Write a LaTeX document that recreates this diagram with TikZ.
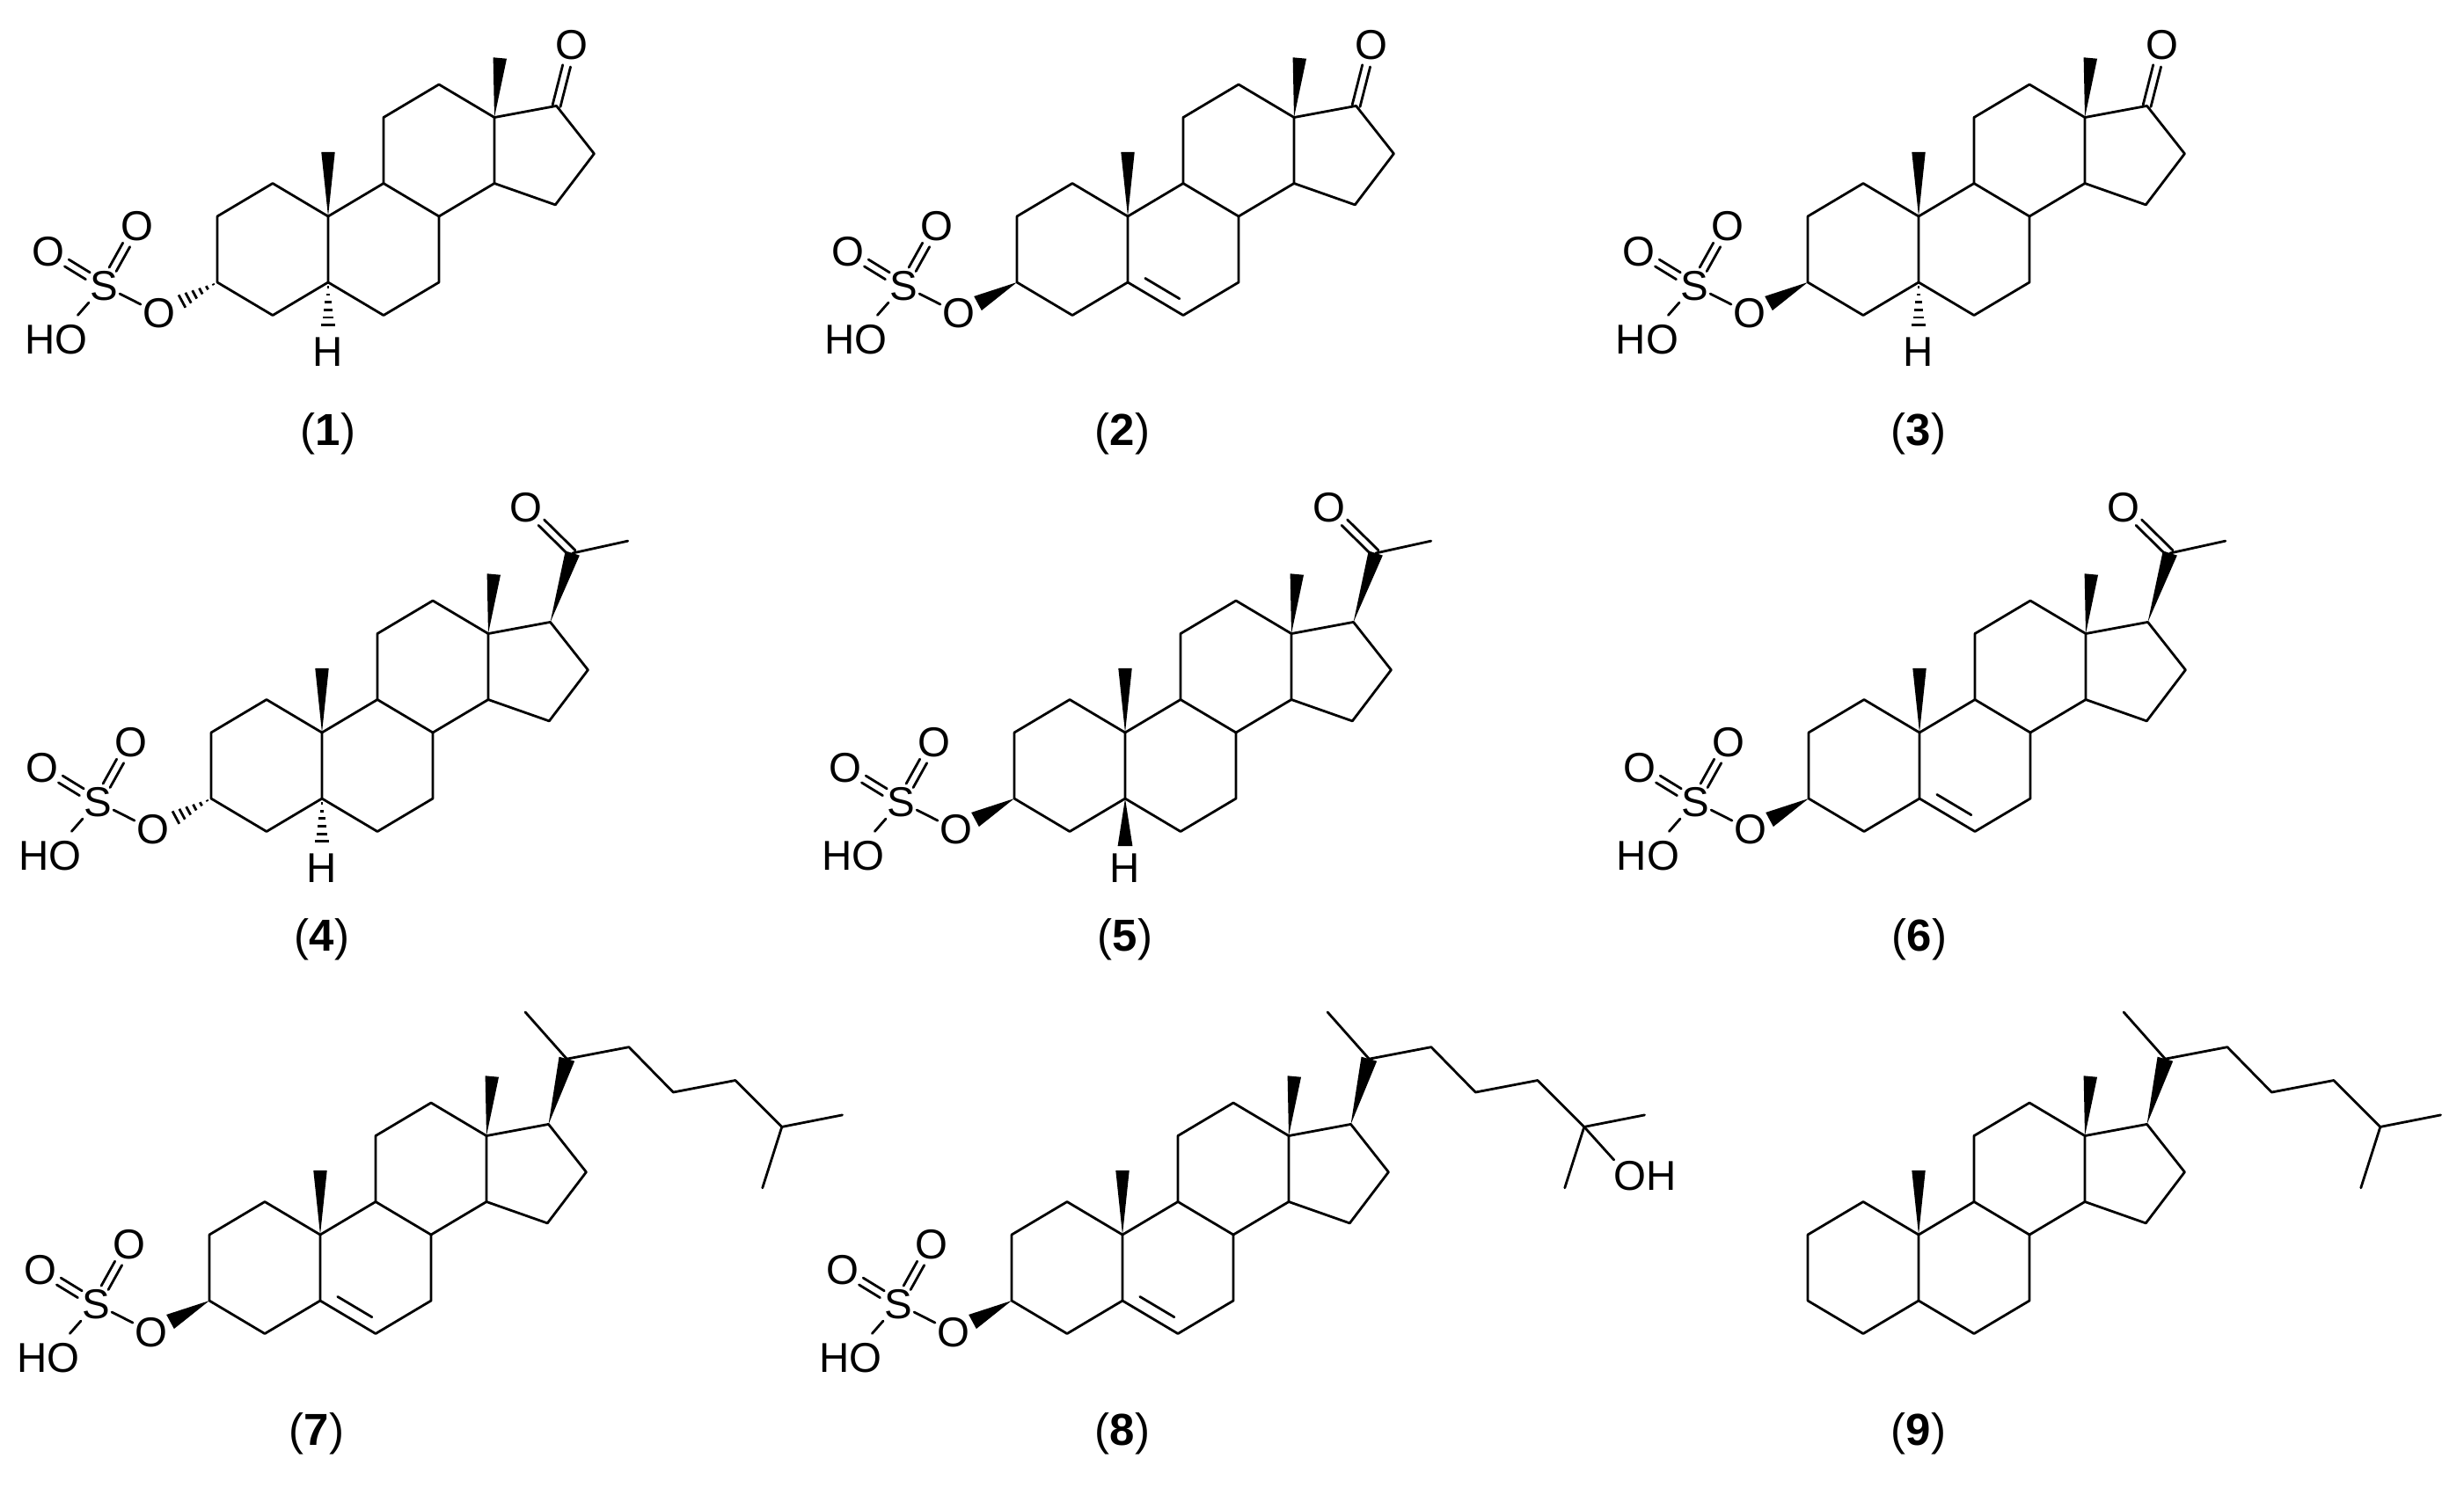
\documentclass[tikz,border=0pt]{standalone}
\usepackage{fontspec}
\setmainfont{Liberation Sans}
\usetikzlibrary{calc}
\tikzset{
  atom/.style={inner sep=0.5pt,font=\fontsize{13.5}{16}\selectfont},
  lab/.style={inner sep=0pt,font=\fontsize{14.5}{17}\selectfont},
  bond/.style={line width=0.28mm,line join=round,line cap=round},
}
\newcommand\wdg[3]{\fill (#1) -- ($(#2)!#3!90:(#1)$) -- ($(#2)!#3!-90:(#1)$) -- cycle;}
\newcommand\hashb[3]{\foreach \t in {0.1,0.26,0.42,0.58,0.74,0.9}{\draw[bond,line cap=butt] ($(#1)!\t!(#2)!{\t*#3}!90:(#2)$) -- ($(#1)!\t!(#2)!{\t*#3}!-90:(#2)$);}}
\newcommand\dbl[3]{\draw[bond] ($(#1)!#3!90:(#2)$) -- ($(#2)!#3!-90:(#1)$);
  \draw[bond] ($(#1)!#3!-90:(#2)$) -- ($(#2)!#3!90:(#1)$);}
\newcommand\core{%
  \coordinate (c10) at (0,0); \coordinate (c5) at (0,-2);
  \coordinate (c1) at (-1,1); \coordinate (c2) at (-2,0);
  \coordinate (c3) at (-2,-2); \coordinate (c4) at (-1,-3);
  \coordinate (c6) at (1,-3); \coordinate (c7) at (2,-2);
  \coordinate (c8) at (2,0); \coordinate (c9) at (1,1);
  \coordinate (c11) at (1,3); \coordinate (c12) at (2,4);
  \coordinate (c13) at (3,3); \coordinate (c14) at (3,1);
  \coordinate (c15) at (4.1,0.35); \coordinate (c16) at (4.8,1.9);
  \coordinate (c17) at (4.12,3.35); \coordinate (c18) at (3.1,4.8);
  \coordinate (c19) at (0,1.95);
  \draw[bond] (c10)--(c1)--(c2)--(c3)--(c4)--(c5)--(c10)--(c9)--(c8)--(c7)--(c6)--(c5);
  \draw[bond] (c9)--(c11)--(c12)--(c13)--(c14)--(c8);
  \draw[bond] (c13)--(c17)--(c16)--(c15)--(c14);
  \wdg{c10}{c19}{2.2pt}
  \wdg{c13}{c18}{2.2pt}}
\newcommand\sulf[1]{% #1 = b (beta wedge) or a (alpha hash)
  \node[atom] (Oe) at (-3.05,-2.95) {O};
  \node[atom] (S) at (-4.05,-2.1) {S};
  \node[atom] (Ol) at (-5.05,-1.07) {O};
  \node[atom] (Or) at (-3.45,-0.29) {O};
  \node[atom] (HO) at (-4.9,-3.73) {HO};
  \coordinate (oe) at ($(Oe)!7pt!(c3)$);
  \ifx#1b\wdg{c3}{oe}{2.6pt}\else\hashb{c3}{oe}{2.6pt}\fi
  \draw[bond] (Oe) -- (S);
  \draw[bond] (S) -- ($(HO)!0.45!(S)$);
  \dbl{$(S)!6pt!(Ol)$}{$(Ol)!7pt!(S)$}{1.3pt}
  \dbl{$(S)!6pt!(Or)$}{$(Or)!7pt!(S)$}{1.3pt}}
\newcommand\Hal[1]{% a hash, b wedge
  \node[atom] (H) at (0,-4.1) {H};
  \coordinate (he) at ($(H)!7pt!(c5)$);
  \ifx#1b\wdg{c5}{he}{2.4pt}\else\hashb{c5}{he}{2.4pt}\fi}
\newcommand\keto{\node[atom] (Ok) at (4.4,5.2) {O};
  \dbl{c17}{$(Ok)!7pt!(c17)$}{1.3pt}}
\newcommand\ene{\draw[bond] ($(c5)!0.2!(c6)!4pt!90:(c6)$) -- ($(c5)!0.82!(c6)!4pt!90:(c6)$);}
\newcommand\acetyl{\coordinate (c20) at (4.52,5.44); \coordinate (c21) at (5.52,5.81);
  \node[atom] (Oa) at (3.68,6.83) {O};
  \wdg{c17}{c20}{2.4pt}
  \draw[bond] (c20) -- (c21);
  \dbl{c20}{$(Oa)!7pt!(c20)$}{1.3pt}}
\newcommand\chol{\coordinate (c20) at (4.45,5.33); \coordinate (c21) at (3.7,6.75);
  \coordinate (c22) at (5.57,5.69); \coordinate (c23) at (6.37,4.32);
  \coordinate (c24) at (7.49,4.68); \coordinate (c25) at (8.33,3.27);
  \coordinate (c26) at (9.42,3.63); \coordinate (c27) at (7.98,1.42);
  \wdg{c17}{c20}{2.6pt}
  \draw[bond] (c21)--(c20)--(c22)--(c23)--(c24)--(c25)--(c26);
  \draw[bond] (c25)--(c27);}
\begin{document}
\begin{tikzpicture}[x=6.3mm,y=3.75mm]
\useasboundingbox (0,0) rectangle (280.1mm,-169.9mm);
% row 1
\begin{scope}[shift={(37.3mm,-24.6mm)}] \core \sulf{a} \Hal{a} \keto \end{scope}
\begin{scope}[shift={(128.2mm,-24.6mm)}] \core \sulf{b} \ene \keto \end{scope}
\begin{scope}[shift={(218.1mm,-24.6mm)}] \core \sulf{b} \Hal{a} \keto \end{scope}
% row 2
\begin{scope}[shift={(36.6mm,-83.3mm)}] \core \sulf{a} \Hal{a} \acetyl \end{scope}
\begin{scope}[shift={(127.9mm,-83.3mm)}] \core \sulf{b} \Hal{b} \acetyl \end{scope}
\begin{scope}[shift={(218.2mm,-83.3mm)}] \core \sulf{b} \ene \acetyl \end{scope}
% row 3
\begin{scope}[shift={(36.4mm,-140.4mm)}] \core \sulf{b} \ene \chol \end{scope}
\begin{scope}[shift={(127.6mm,-140.4mm)}] \core \sulf{b} \ene \chol
  \node[atom] (OH) at (9.43,1.78) {OH};
  \draw[bond] (c25) -- ($(9.13,1.78)!7pt!(c25)$);
\end{scope}
\begin{scope}[shift={(218.1mm,-140.4mm)}] \core \chol \end{scope}
% labels
\node[lab] (L1) at (37.3mm,-49.3mm) {(\textbf{1})};
\node[lab] (L2) at (127.6mm,-49.3mm) {(\textbf{2})};
\node[lab] (L3) at (218.1mm,-49.3mm) {(\textbf{3})};
\node[lab] (L4) at (36.6mm,-106.8mm) {(\textbf{4})};
\node[lab] (L5) at (127.9mm,-106.8mm) {(\textbf{5})};
\node[lab] (L6) at (218.2mm,-106.8mm) {(\textbf{6})};
\node[lab] (L7) at (36.0mm,-163.0mm) {(\textbf{7})};
\node[lab] (L8) at (127.6mm,-163.0mm) {(\textbf{8})};
\node[lab] (L9) at (218.1mm,-163.0mm) {(\textbf{9})};
\end{tikzpicture}
\end{document}
